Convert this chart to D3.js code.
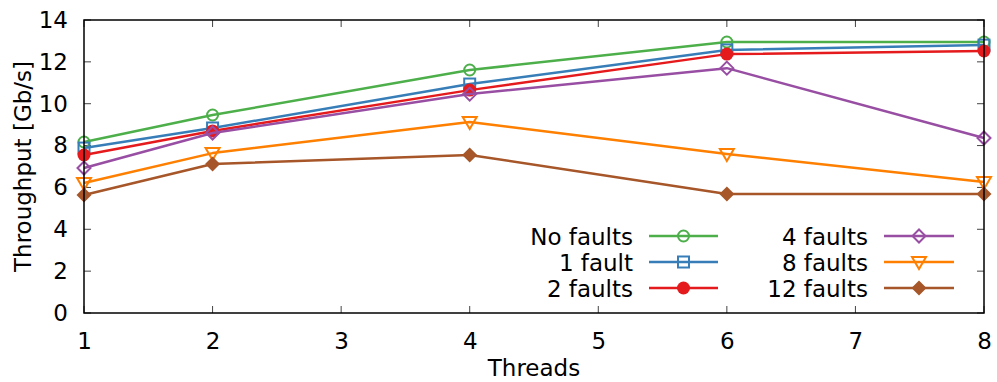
<!DOCTYPE html>
<html>
<head>
<meta charset="utf-8">
<script src="https://cdn.jsdelivr.net/npm/d3@7"></script>
<style>
  html, body { margin: 0; padding: 0; background: #fff; }
  svg { display: block; font-family: "DejaVu Sans", sans-serif; }
</style>
</head>
<body>
<svg id="chart" width="997" height="382"></svg>
<script>
// Thread counts measured
const threads = [1, 2, 4, 6, 8];
const xTicks = [1, 2, 3, 4, 5, 6, 7, 8];
const yTicks = [0, 2, 4, 6, 8, 10, 12, 14];

// Throughput (Gb/s) per fault count
const seriesNames = ["No faults", "1 fault", "2 faults", "4 faults", "8 faults", "12 faults"];
const noFaults  = [8.17, 9.46, 11.61, 12.95, 12.95];
const oneFault  = [7.88, 8.84, 10.94, 12.57, 12.80];
const twoFaults = [7.55, 8.70, 10.65, 12.37, 12.52];
const fourFaults  = [6.93, 8.60, 10.46, 11.70, 8.36];
const eightFaults = [6.21, 7.64, 9.13, 7.60, 6.26];
const twelveFaults = [5.64, 7.12, 7.55, 5.69, 5.69];

const seriesValues = [noFaults, oneFault, twoFaults, fourFaults, eightFaults, twelveFaults];
const colors = ["#4daf4a", "#377eb8", "#e41a1c", "#984ea3", "#ff7f00", "#a65628"];
const markers = ["circle", "square", "dot", "diamond", "triangle", "filledDiamond"];

const FS = 23;
const svg = d3.select("#chart");
const L = 84, R = 984, T = 20, B = 313;

const x = d3.scaleLinear().domain([1, 8]).range([L, R]);
const y = d3.scaleLinear().domain([0, 14]).range([B, T]);

// inner tick marks on all four sides
const tickLen = 7;
const tickG = svg.append("g").attr("stroke", "#444").attr("stroke-width", 1);
xTicks.forEach(t => {
  tickG.append("line").attr("x1", x(t)).attr("x2", x(t)).attr("y1", B).attr("y2", B - tickLen);
  tickG.append("line").attr("x1", x(t)).attr("x2", x(t)).attr("y1", T).attr("y2", T + tickLen);
});
yTicks.forEach(t => {
  tickG.append("line").attr("x1", L).attr("x2", L + tickLen).attr("y1", y(t)).attr("y2", y(t));
  tickG.append("line").attr("x1", R).attr("x2", R - tickLen).attr("y1", y(t)).attr("y2", y(t));
});

// tick labels via d3 axes
const xAxis = svg.append("g").attr("transform", `translate(0,${B})`)
  .call(d3.axisBottom(x).tickValues(xTicks).tickSize(0).tickPadding(20).tickFormat(d3.format("d")));
const yAxis = svg.append("g").attr("transform", `translate(${L},0)`)
  .call(d3.axisLeft(y).tickValues(yTicks).tickSize(0).tickPadding(16).tickFormat(d3.format("d")));
[xAxis, yAxis].forEach(a => {
  a.select(".domain").remove();
  a.selectAll("text").attr("font-size", FS).attr("fill", "#000").attr("font-family", "DejaVu Sans, sans-serif");
});

// axis titles
svg.append("text").attr("x", (L + R) / 2).attr("y", 376).attr("text-anchor", "middle")
  .attr("font-size", FS).text("Threads");
svg.append("text").attr("transform", `translate(31,${(T + B) / 2}) rotate(-90)`)
  .attr("text-anchor", "middle").attr("font-size", FS).text("Throughput [Gb/s]");

function drawMarker(g, type, cx, cy, color) {
  const sw = 2;
  switch (type) {
    case "circle":
      g.append("circle").attr("cx", cx).attr("cy", cy).attr("r", 5.5)
        .attr("fill", "none").attr("stroke", color).attr("stroke-width", sw);
      break;
    case "square":
      g.append("rect").attr("x", cx - 5.5).attr("y", cy - 5.5).attr("width", 11).attr("height", 11)
        .attr("fill", "none").attr("stroke", color).attr("stroke-width", sw);
      break;
    case "dot":
      g.append("circle").attr("cx", cx).attr("cy", cy).attr("r", 6.5).attr("fill", color);
      break;
    case "diamond":
      g.append("path").attr("d", `M${cx},${cy - 6.5}L${cx + 6.5},${cy}L${cx},${cy + 6.5}L${cx - 6.5},${cy}Z`)
        .attr("fill", "none").attr("stroke", color).attr("stroke-width", sw);
      break;
    case "triangle":
      g.append("path").attr("d", `M${cx - 7},${cy - 5}L${cx + 7},${cy - 5}L${cx},${cy + 7}Z`)
        .attr("fill", "none").attr("stroke", color).attr("stroke-width", sw);
      break;
    case "filledDiamond":
      g.append("path").attr("d", `M${cx},${cy - 7.5}L${cx + 7.5},${cy}L${cx},${cy + 7.5}L${cx - 7.5},${cy}Z`)
        .attr("fill", color);
      break;
  }
}

const line = d3.line().x((d, i) => x(threads[i])).y(d => y(d));

// legend entries
const legendRows = [236, 262, 288];
const legendCols = [{ textEnd: 633, l0: 649, l1: 718 }, { textEnd: 868, l0: 884, l1: 954 }];
const legendG = svg.append("g");
seriesNames.forEach((name, i) => {
  const col = legendCols[Math.floor(i / 3)];
  const ry = legendRows[i % 3];
  legendG.append("text").attr("x", col.textEnd).attr("y", ry + 9).attr("text-anchor", "end")
    .attr("font-size", FS).text(name);
  legendG.append("line").attr("x1", col.l0).attr("x2", col.l1).attr("y1", ry).attr("y2", ry)
    .attr("stroke", colors[i]).attr("stroke-width", 2.5);
  drawMarker(legendG, markers[i], (col.l0 + col.l1) / 2, ry, colors[i]);
});

// data series
seriesValues.forEach((vals, i) => {
  const g = svg.append("g");
  g.append("path").datum(vals).attr("d", line).attr("fill", "none")
    .attr("stroke", colors[i]).attr("stroke-width", 2.5).attr("stroke-linejoin", "round");
  vals.forEach((v, j) => drawMarker(g, markers[i], x(threads[j]), y(v), colors[i]));
});

// plot frame
svg.append("rect").attr("x", L).attr("y", T).attr("width", R - L).attr("height", B - T)
  .attr("fill", "none").attr("stroke", "#000").attr("stroke-width", 1.5);
</script>
</body>
</html>
